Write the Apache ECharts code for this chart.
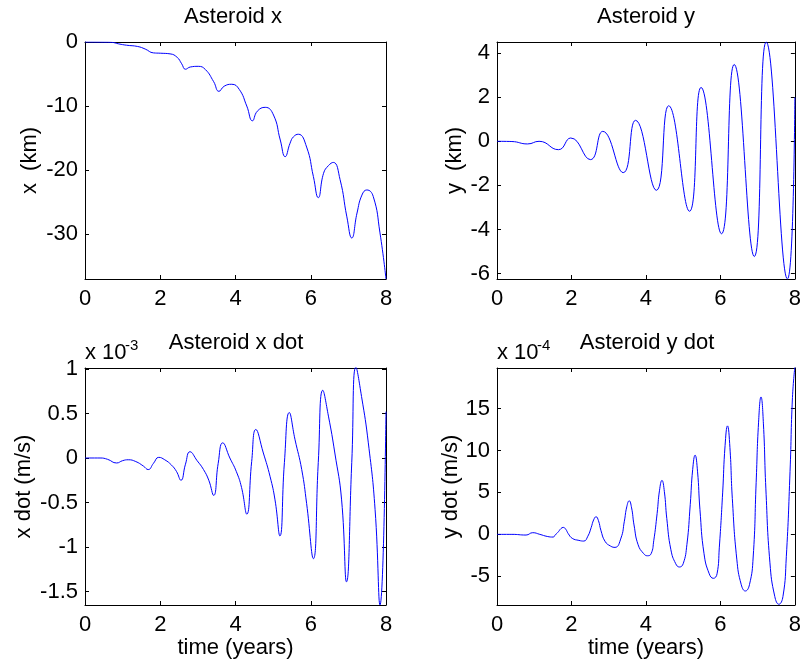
<!DOCTYPE html>
<html><head><meta charset="utf-8">
<script src="https://cdn.jsdelivr.net/npm/echarts@6/dist/echarts.min.js"></script>
<style>html,body{margin:0;padding:0;background:#fff}#c{width:804px;height:663px}</style>
</head><body><div id="c"></div>
<script>
// ---- data (time in years) ----
const xTicks = [0, 2, 4, 6, 8];

// Asteroid x (km)
const tX = [0,0.5,0.7,0.9,1.1,1.4,1.6,1.82,2.0,2.26,2.45,2.57,2.67,2.8,3.01,3.2,3.42,3.56,3.7,3.9,4.1,4.3,4.45,4.58,4.79,5.01,5.19,5.32,5.45,5.54,5.67,5.89,6.07,6.2,6.34,6.47,6.6,6.78,6.96,7.09,7.23,7.36,7.49,7.66,7.84,8.0];
const xKm = [0,-0.02,-0.05,-0.3,-0.5,-0.7,-1.1,-1.7,-1.75,-1.85,-2.4,-3.4,-4.25,-3.9,-3.8,-4.3,-6.2,-7.7,-6.9,-6.6,-7.4,-10,-12.3,-10.8,-10.2,-11.4,-15.3,-17.9,-15.8,-14.8,-14.4,-16.4,-21.0,-24.3,-20.5,-19.3,-18.8,-21.5,-27.3,-30.6,-26.7,-23.9,-23.1,-24.1,-29.8,-37];
const xKmTicks = [-30, -20, -10, 0];

// Asteroid y (km)
const tY = [0,0.4,0.82,1.13,1.65,1.98,2.51,2.84,3.39,3.72,4.28,4.61,5.17,5.48,6.03,6.37,6.91,7.23,7.80,8.0];
const yKm = [0,-0.01,-0.12,0,-0.38,0.15,-0.83,0.45,-1.42,0.95,-2.22,1.61,-3.17,2.44,-4.19,3.48,-5.22,4.5,-6.24,1.99];
const yKmTicks = [-6, -4, -2, 0, 2, 4];

// Asteroid x dot (x 1e-3 m/s)
const tXd = [0,0.4,0.6,0.84,1.0,1.15,1.35,1.55,1.68,1.82,1.96,2.12,2.30,2.43,2.55,2.67,2.79,2.98,3.15,3.29,3.42,3.54,3.66,3.85,4.02,4.16,4.30,4.43,4.54,4.74,4.92,5.05,5.18,5.30,5.43,5.58,5.76,5.89,6.07,6.20,6.32,6.47,6.64,6.82,6.95,7.09,7.20,7.35,7.53,7.71,7.84,8.0];
const xDot = [0,0,-0.015,-0.056,-0.03,-0.02,-0.04,-0.09,-0.13,-0.06,0.007,-0.02,-0.08,-0.15,-0.25,-0.07,0.07,-0.03,-0.13,-0.25,-0.42,-0.06,0.17,0.0,-0.15,-0.33,-0.63,-0.04,0.32,0.056,-0.21,-0.47,-0.875,-0.05,0.51,0.21,-0.13,-0.51,-1.13,-0.05,0.76,0.47,0.056,-0.47,-1.39,-0.05,1.02,0.69,0.17,-0.58,-1.65,0.52];
const xDotTicks = [-1.5, -1, -0.5, 0, 0.5, 1];

// Asteroid y dot (x 1e-4 m/s)
const tYd = [0,0.4,0.78,0.96,1.15,1.35,1.51,1.56,1.65,1.715,1.78,1.845,1.91,2.02,2.2,2.33,2.44,2.53,2.595,2.66,2.725,2.79,2.90,3.05,3.17,3.33,3.42,3.485,3.55,3.615,3.68,3.79,3.94,4.04,4.14,4.21,4.30,4.365,4.43,4.495,4.56,4.67,4.80,4.90,5.00,5.10,5.19,5.255,5.32,5.385,5.45,5.56,5.70,5.81,5.91,5.97,6.06,6.125,6.19,6.255,6.32,6.44,6.56,6.67,6.78,6.88,6.96,7.025,7.09,7.155,7.22,7.33,7.46,7.57,7.68,7.77,7.87,7.935,8.0];
const yDot = [0,0,-0.08,0.2,0.0,-0.25,-0.32,-0.09,0.32,0.68,0.83,0.62,0.11,-0.47,-0.72,-0.8,-0.22,0.82,1.72,2.1,1.63,0.49,-0.82,-1.4,-1.55,-0.44,1.56,3.28,4.0,3.15,1.12,-1.24,-2.3,-2.55,-2.3,-0.75,2.48,5.26,6.43,5.09,1.89,-1.83,-3.5,-3.89,-3.5,-1.22,3.57,7.71,9.44,7.53,2.98,-2.30,-4.7,-5.24,-4.7,-1.61,4.94,10.57,12.93,10.37,4.27,-2.95,-6.0,-6.75,-6.0,-2.7,6.20,13.37,16.38,13.17,5.51,-3.39,-7.4,-8.33,-7.4,-2.67,7.5,16.3,20.0];
const yDotTicks = [-5, 0, 5, 10, 15];

// ---- layout / style ----
const FONT = 'Liberation Sans, Arial, Helvetica, sans-serif';
const FS = 22;
const grids = [
  {left: 85, top: 42, width: 301, height: 237},
  {left: 497, top: 42, width: 301, height: 237},
  {left: 85, top: 368, width: 301, height: 237},
  {left: 497, top: 368, width: 301, height: 237}
];
const panels = [
  {t: tX, v: xKm, ticks: xKmTicks, min: -37, max: 0, yName: 'x  (km)', yGap: 44, xName: ''},
  {t: tY, v: yKm, ticks: yKmTicks, min: -6.24, max: 4.5, yName: 'y  (km)', yGap: 31, xName: ''},
  {t: tXd, v: xDot, ticks: xDotTicks, min: -1.65, max: 1.01, yName: 'x dot (m/s)', yGap: 50, xName: 'time (years)'},
  {t: tYd, v: yDot, ticks: yDotTicks, min: -8.42, max: 19.83, yName: 'y dot (m/s)', yGap: 30, xName: 'time (years)'}
];

const lineStyle = {color: '#000', width: 1};
const tick = (vals) => ({show: true, inside: true, length: 4, lineStyle: lineStyle, customValues: vals});
const txt = {color: '#000', fontSize: FS, fontFamily: FONT};

const xAxis = [], yAxis = [], series = [];
panels.forEach((p, i) => {
  xAxis.push({
    type: 'value', gridIndex: i, position: 'bottom', min: 0, max: 8,
    axisLine: {show: true, onZero: false, lineStyle: lineStyle},
    axisTick: tick(xTicks),
    axisLabel: Object.assign({show: true, margin: 9, customValues: xTicks}, txt),
    splitLine: {show: false},
    name: p.xName, nameLocation: 'middle', nameGap: 28, nameTextStyle: txt
  });
  xAxis.push({
    type: 'value', gridIndex: i, position: 'top', min: 0, max: 8,
    axisLine: {show: true, onZero: false, lineStyle: lineStyle},
    axisTick: tick(xTicks), axisLabel: {show: false}, splitLine: {show: false}
  });
  yAxis.push({
    type: 'value', gridIndex: i, position: 'left', min: p.min, max: p.max,
    axisLine: {show: true, onZero: false, lineStyle: lineStyle},
    axisTick: tick(p.ticks),
    axisLabel: Object.assign({show: true, margin: 7, customValues: p.ticks}, txt),
    splitLine: {show: false},
    name: p.yName, nameLocation: 'middle', nameGap: p.yGap, nameTextStyle: txt
  });
  yAxis.push({
    type: 'value', gridIndex: i, position: 'right', min: p.min, max: p.max,
    axisLine: {show: true, onZero: false, lineStyle: lineStyle},
    axisTick: tick(p.ticks), axisLabel: {show: false}, splitLine: {show: false}
  });
  series.push({
    type: 'line', xAxisIndex: 2 * i, yAxisIndex: 2 * i,
    data: p.t.map((t, k) => [t, p.v[k]]),
    showSymbol: false, smooth: 0.5, clip: true,
    lineStyle: {color: '#0000ff', width: 1}, itemStyle: {color: '#0000ff'},
    silent: true
  });
});

const titleText = (text, x, y) => ({
  type: 'text', x: x, y: y, silent: true,
  style: {text: text, fill: '#000', fontSize: FS, fontFamily: FONT, align: 'center', verticalAlign: 'top'}
});
const plainText = (text, x, y, size) => ({
  type: 'text', x: x, y: y, silent: true,
  style: {text: text, fill: '#000', fontSize: size, fontFamily: FONT, align: 'left', verticalAlign: 'middle'}
});

const chart = echarts.init(document.getElementById('c'), null, {renderer: 'canvas'});
chart.setOption({
  animation: false,
  backgroundColor: '#fff',
  grid: grids.map(g => Object.assign({show: false, containLabel: false}, g)),
  xAxis: xAxis,
  yAxis: yAxis,
  series: series,
  graphic: [
    titleText('Asteroid x', 233, 6),
    titleText('Asteroid y', 646, 6),
    titleText('Asteroid x dot', 236, 332),
    titleText('Asteroid y dot', 647, 332),
    plainText('x 10', 85, 353, FS),
    plainText('-3', 125, 346, 15),
    plainText('x 10', 497, 353, FS),
    plainText('-4', 537, 346, 15)
  ]
});
</script></body></html>
